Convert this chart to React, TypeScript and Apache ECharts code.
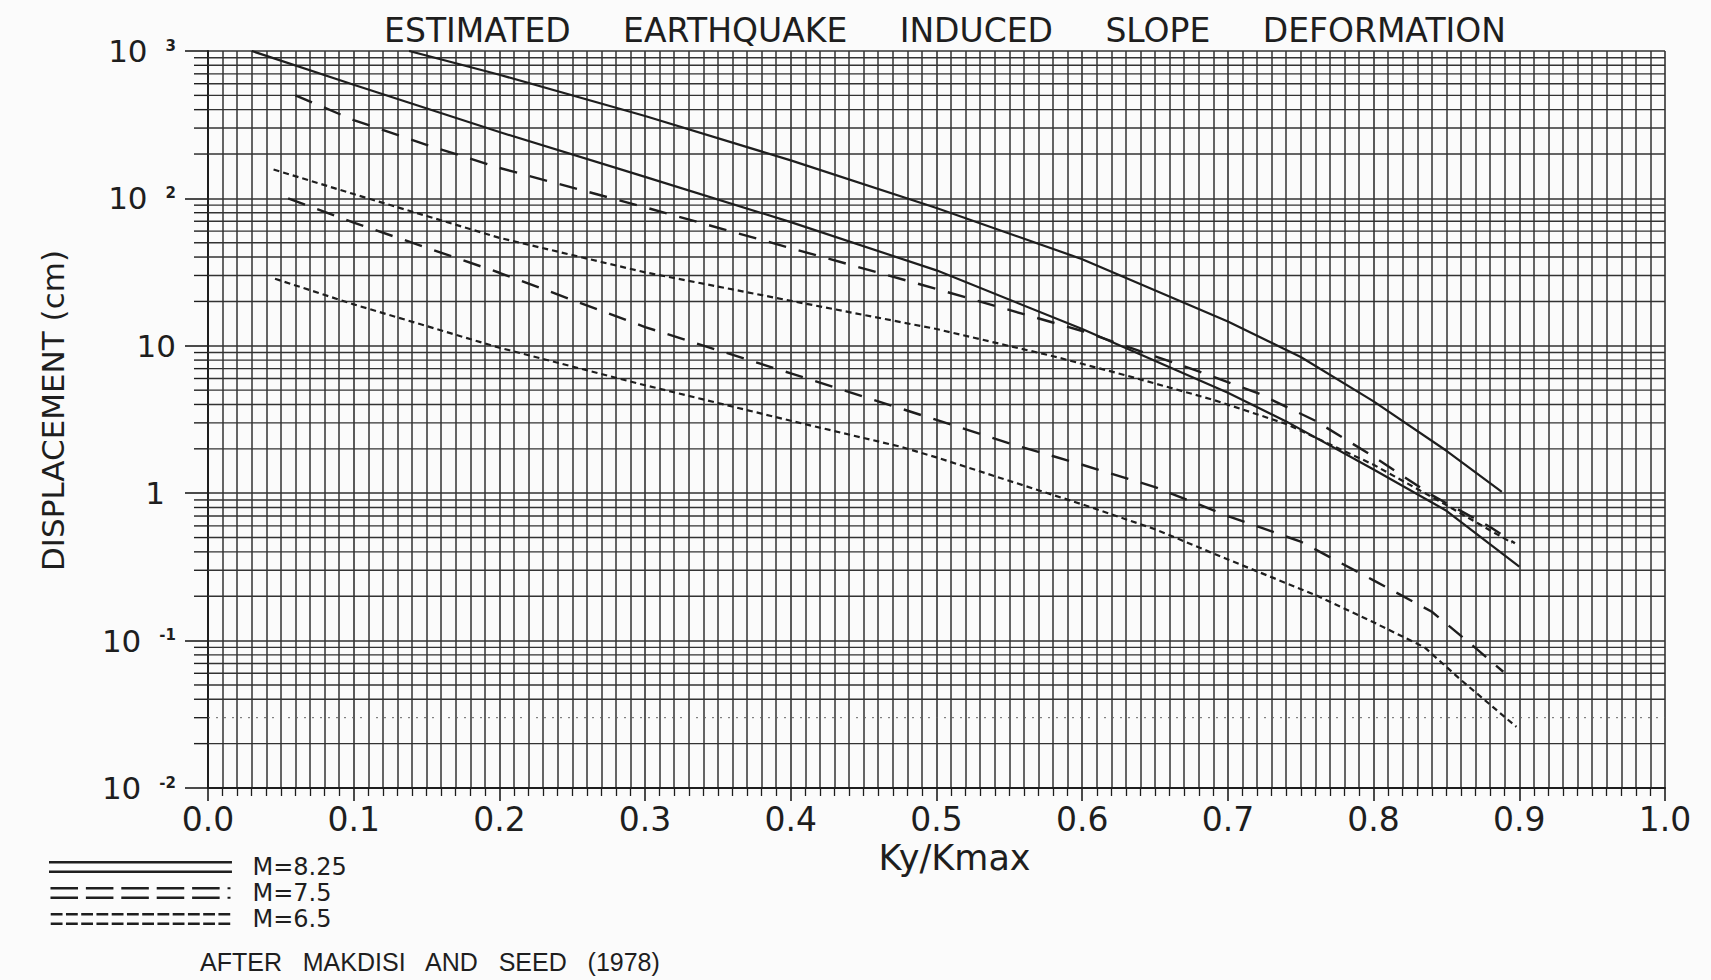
import React, { useEffect, useRef } from "react";
import * as echarts from "echarts";

const FONT = "'DejaVu Sans', 'Liberation Sans', sans-serif";
const INK = "#1e1e1e";
const GRID = "#333333";

const titleText = "ESTIMATED     EARTHQUAKE     INDUCED     SLOPE     DEFORMATION";
const xAxisName = "Ky/Kmax";
const yAxisName = "DISPLACEMENT (cm)";
const sourceNote = "AFTER   MAKDISI   AND   SEED   (1978)";

const xTickLabels = ["0.0", "0.1", "0.2", "0.3", "0.4", "0.5", "0.6", "0.7", "0.8", "0.9", "1.0"];
const yDecades = [0.01, 0.1, 1, 10, 100, 1000];
const yDecadeBase = ["10", "10", "1", "10", "10", "10"];
const yDecadeExp = ["-2", "-1", "", "", "2", "3"];
const minorMultipliers = [2, 3, 4, 5, 6, 7, 8, 9];
const minorDecades = [0.01, 0.1, 1, 10, 100];

const magnitudes = ["M=8.25", "M=7.5", "M=6.5"];

// M = 8.25 (solid)
const kyM825Upper = [0.138, 0.2, 0.3, 0.4, 0.5, 0.6, 0.7, 0.75, 0.8, 0.85, 0.888];
const dispM825Upper = [1000, 690, 362, 181, 86, 38.7, 14.6, 8.4, 4.2, 1.94, 1.02];
const kyM825Lower = [0.03, 0.1, 0.2, 0.3, 0.4, 0.5, 0.6, 0.7, 0.74, 0.8, 0.85, 0.9];
const dispM825Lower = [1000, 590, 282, 140, 69, 32.5, 13.0, 4.8, 3.07, 1.45, 0.76, 0.317];

// M = 7.5 (dashed)
const kyM75Upper = [0.06, 0.1, 0.15, 0.2, 0.3, 0.4, 0.5, 0.6, 0.68, 0.72, 0.76, 0.8, 0.84, 0.88, 0.897];
const dispM75Upper = [500, 340, 231, 161, 87, 46, 24.3, 12.6, 6.7, 4.8, 3.1, 1.77, 0.97, 0.59, 0.457];
const kyM75Lower = [0.055, 0.1, 0.2, 0.3, 0.4, 0.5, 0.55, 0.6, 0.65, 0.7, 0.75, 0.8, 0.84, 0.865, 0.889];
const dispM75Lower = [100, 68.5, 31.3, 13.4, 6.5, 3.14, 2.18, 1.56, 1.1, 0.7, 0.469, 0.256, 0.157, 0.098, 0.0615];

// M = 6.5 (dotted)
const kyM65Upper = [0.045, 0.1, 0.2, 0.3, 0.4, 0.5, 0.58, 0.63, 0.69, 0.74, 0.8, 0.85, 0.895];
const dispM65Upper = [157, 107, 54, 31.5, 20.2, 13.0, 8.5, 6.3, 4.3, 2.95, 1.56, 0.83, 0.46];
const kyM65Lower = [0.046, 0.1, 0.2, 0.3, 0.4, 0.475, 0.5, 0.6, 0.65, 0.7, 0.76, 0.8, 0.835, 0.86, 0.898];
const dispM65Lower = [28.5, 19.1, 9.7, 5.4, 3.1, 2.07, 1.75, 0.84, 0.57, 0.355, 0.204, 0.133, 0.09, 0.054, 0.026];

const zip = (xs: number[], ys: number[]) => xs.map((x, i) => [x, ys[i]]);

const minorValues: number[] = [];
minorDecades.forEach((d) => minorMultipliers.forEach((m) => minorValues.push(+(m * d).toPrecision(6))));

function iconPath(segLen: number, gap: number, total: number, tail: boolean) {
  let p = "path://";
  const rows = [0, 9.6];
  rows.forEach((y) => {
    let x = 0;
    while (x + segLen <= total + 0.01) {
      p += `M${x},${y}H${x + segLen}V${y + 2.6}H${x}Z `;
      x += segLen + gap;
    }
    if (tail) p += `M${total + 4},${y + 0.3}H${total + 7}V${y + 2.3}H${total + 4}Z `;
  });
  return p.trim();
}
const solidIcon = "path://M0,0H186V2.6H0Z M0,9.6H186V12.2H0Z";
const dashedIcon = iconPath(28, 8, 176, true);
const dottedIcon = iconPath(12, 3.5, 186, false);

export default function App() {
  const ref = useRef<HTMLDivElement>(null);
  useEffect(() => {
    if (!ref.current) return;
    const chart = echarts.init(ref.current, undefined, { renderer: "svg" });
    const lineBase = (name: string, data: number[][], type: any, width: number) => ({
      type: "line",
      name,
      data,
      showSymbol: false,
      symbol: "none",
      smooth: false,
      color: INK,
      z: 5,
      silent: true,
      lineStyle: { color: INK, width, type, join: "round" },
    });
    const rich = {
      b: { fontSize: 31, fontFamily: FONT, color: INK, lineHeight: 32 },
      b10: { fontSize: 31, fontFamily: FONT, color: INK, lineHeight: 32, padding: [0, 0, 0, 0] },
      b1: { fontSize: 31, fontFamily: FONT, color: INK, lineHeight: 32, padding: [0, 11, 0, 0] },
      s: { fontSize: 15, fontWeight: "bold", fontFamily: FONT, color: INK, lineHeight: 15, verticalAlign: "top", padding: [3, 0, 0, 18] },
    };
    chart.setOption({
      animation: false,
      backgroundColor: "#fbfbfb",
      title: {
        text: titleText,
        left: 940,
        top: 9,
        textAlign: "center",
        textStyle: { fontSize: 33, fontWeight: "normal", fontFamily: FONT, color: INK },
      },
      grid: { left: 208, top: 51, width: 1457, height: 737, containLabel: false },
      legend: {
        orient: "vertical",
        left: 44,
        top: 849,
        itemWidth: 186,
        itemHeight: 12,
        itemGap: 0,
        selectedMode: false,
        itemStyle: { color: INK, borderWidth: 0 },
        lineStyle: { width: 0 },
        textStyle: { fontSize: 24, fontFamily: FONT, color: INK, lineHeight: 26, padding: [0, 0, 0, 14] },
        data: [
          { name: magnitudes[0], icon: solidIcon },
          { name: magnitudes[1], icon: dashedIcon },
          { name: magnitudes[2], icon: dottedIcon },
        ],
      },
      xAxis: {
        type: "value",
        min: 0,
        max: 1,
        interval: 0.1,
        name: xAxisName,
        nameLocation: "middle",
        nameGap: 50,
        nameTextStyle: { fontSize: 35, fontFamily: FONT, color: INK, padding: [0, 0, 0, 36] },
        axisLine: { show: true, onZero: false, lineStyle: { color: INK, width: 2 } },
        axisTick: { show: true, length: 13, lineStyle: { color: INK, width: 1.6 } },
        minorTick: { show: true, splitNumber: 10, length: 8, lineStyle: { color: INK, width: 1.3 } },
        splitLine: { show: true, lineStyle: { color: GRID, width: 1.6 } },
        minorSplitLine: { show: true, lineStyle: { color: GRID, width: 1.5 } },
        axisLabel: {
          fontSize: 33,
          fontFamily: FONT,
          color: INK,
          margin: 15,
          formatter: (v: number) => xTickLabels[Math.round(v * 10)] ?? "",
        },
      },
      yAxis: {
        type: "log",
        logBase: 10,
        min: 0.01,
        max: 1000,
        splitNumber: 5,
        name: yAxisName,
        nameLocation: "middle",
        nameGap: 140,
        nameTextStyle: { fontSize: 31, fontFamily: FONT, color: INK, padding: [0, 0, 0, 18] },
        axisLine: { show: true, onZero: false, lineStyle: { color: INK, width: 2 } },
        axisTick: { show: true, length: 23, lineStyle: { color: INK, width: 1.6 } },
        splitLine: { show: true, lineStyle: { color: GRID, width: 1.6 } },
        axisLabel: {
          margin: 32,
          formatter: (v: number) => {
            const i = yDecades.findIndex((d) => Math.abs(Math.log10(d) - Math.log10(v)) < 1e-6);
            if (i < 0) return "";
            const base = yDecadeBase[i];
            const exp = yDecadeExp[i];
            if (exp) return `{b|${base}}{s|${exp}}`;
            return base === "1" ? `{b1|${base}}` : `{b10|${base}}`;
          },
          rich,
        },
      },
      graphic: [
        {
          type: "text",
          left: 200,
          top: 949,
          style: { text: sourceNote, fontSize: 25, fontFamily: "'Liberation Sans', sans-serif", fill: INK },
        },
      ],
      series: [
        {
          type: "custom",
          name: "logGrid",
          silent: true,
          clip: false,
          z: 1,
          data: minorValues.map((v) => [0, v]),
          encode: { x: 0, y: 1 },
          renderItem: (params: any, api: any) => {
            const v = api.value(1);
            const a = api.coord([0, v]);
            const b = api.coord([1, v]);
            const faint = Math.abs(v - 0.03) < 1e-9;
            return {
              type: "group",
              children: [
                { type: "line", shape: { x1: a[0] - 14, y1: a[1], x2: a[0], y2: a[1] }, style: { stroke: INK, lineWidth: 1.4 } },
                {
                  type: "line",
                  shape: { x1: a[0], y1: a[1], x2: b[0], y2: b[1] },
                  style: faint
                    ? { stroke: "#666", lineWidth: 1, lineDash: [2, 6] }
                    : { stroke: GRID, lineWidth: 1.4 },
                },
              ],
            };
          },
        },
        lineBase(magnitudes[0], zip(kyM825Upper, dispM825Upper), "solid", 2.2),
        lineBase(magnitudes[0], zip(kyM825Lower, dispM825Lower), "solid", 2.2),
        lineBase(magnitudes[1], zip(kyM75Upper, dispM75Upper), [18, 13], 2.4),
        lineBase(magnitudes[1], zip(kyM75Lower, dispM75Lower), [18, 13], 2.4),
        lineBase(magnitudes[2], zip(kyM65Upper, dispM65Upper), [6, 4], 2.2),
        lineBase(magnitudes[2], zip(kyM65Lower, dispM65Lower), [6, 4], 2.2),
      ],
    });
    return () => chart.dispose();
  }, []);
  return <div ref={ref} style={{ position: "fixed", left: 0, top: 0, width: 1711, height: 980 }} />;
}
